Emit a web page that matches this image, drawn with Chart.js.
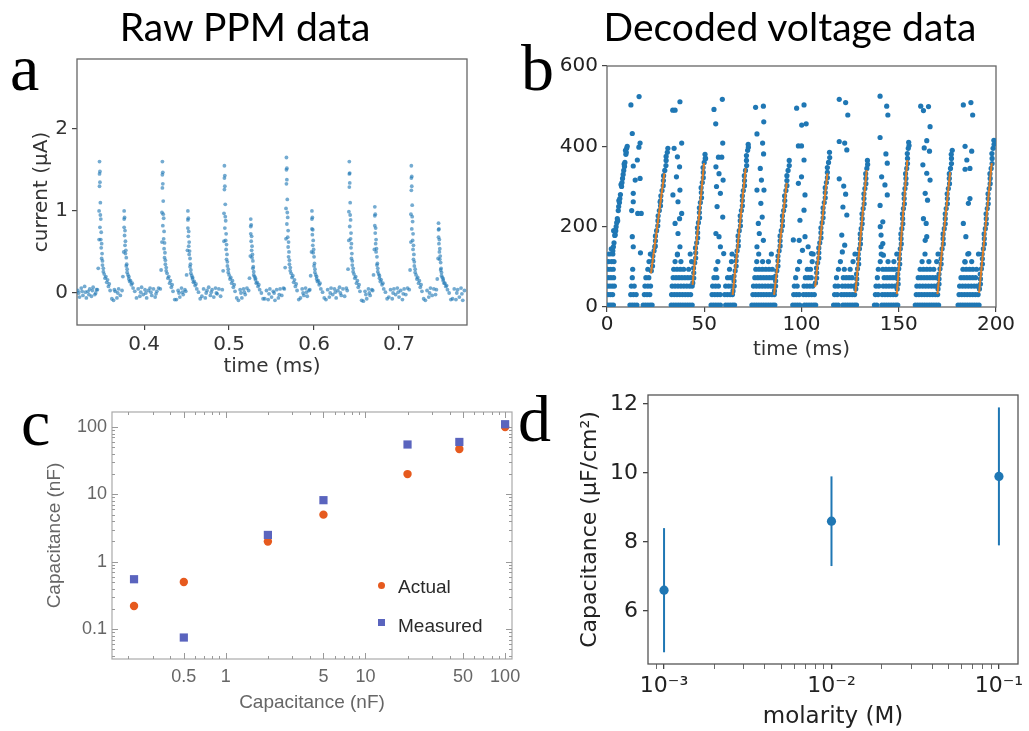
<!DOCTYPE html>
<html>
<head>
<meta charset="utf-8">
<title>PPM capacitance figure</title>
<script src="https://cdn.jsdelivr.net/npm/chart.js@4.4.1/dist/chart.umd.min.js"></script>
<style>
  body { margin: 0; background: #fff; }
  #page { position: relative; width: 1029px; height: 731px; overflow: hidden; }
  canvas { position: absolute; }
  .title { position: absolute; top: 7px; font-family: Lato, sans-serif; font-size: 39px; line-height: 1; color: #000; white-space: nowrap; transform: translateX(-50%); }
  .letter { position: absolute; font-family: "Liberation Serif", serif; font-size: 66px; line-height: 1; color: #000; }
  .legend { position: absolute; font-family: "Liberation Sans", Arial, sans-serif; font-size: 19px; line-height: 1; color: #2a2a2a; white-space: nowrap; }
  .swatch { position: absolute; width: 7px; height: 7px; }
</style>
</head>
<body>
<div id="page">
  <canvas id="ppmChart" width="500" height="390" style="left:0;top:0"></canvas>
  <canvas id="voltageChart" width="529" height="390" style="left:500px;top:0"></canvas>
  <canvas id="capChart" width="540" height="341" style="left:0;top:390px"></canvas>
  <canvas id="molarChart" width="509" height="361" style="left:520px;top:370px"></canvas>

  <div class="title" style="left:245px">Raw PPM data</div>
  <div class="title" style="left:790px">Decoded voltage data</div>
  <div class="letter" style="left:10px;top:35px">a</div>
  <div class="letter" style="left:521px;top:35px">b</div>
  <div class="letter" style="left:21px;top:390px">c</div>
  <div class="letter" style="left:518px;top:386px">d</div>

  <div class="swatch" style="left:378px;top:582px;border-radius:50%;background:#e65a1e"></div>
  <div class="legend" style="left:398px;top:577px">Actual</div>
  <div class="swatch" style="left:378px;top:619px;background:#5a64be"></div>
  <div class="legend" style="left:398px;top:616px">Measured</div>
</div>
<script>
// ---- a: raw PPM current samples [time ms, current µA] ----
const ppmBaseline = [
  [0.322,0.03],[0.323,0.00],[0.324,-0.05],[0.326,0.06],[0.327,0.02],[0.328,-0.03],[0.330,0.08],[0.331,0.01],[0.332,-0.06],[0.334,0.02],[0.335,-0.02],[0.336,0.05],[0.338,-0.04],[0.339,0.03],[0.340,0.07],[0.342,-0.02],[0.343,0.00],[0.344,0.04],
  [0.364,-0.09],[0.365,0.04],[0.366,0.02],[0.368,-0.06],[0.369,0.00],[0.370,0.05],[0.372,-0.03],
  [0.393,0.05],[0.395,-0.04],[0.396,0.01],[0.397,0.07],[0.399,-0.02],[0.401,0.04],[0.402,0.00],[0.403,-0.06],[0.405,0.03],[0.407,0.06],[0.408,0.01],[0.409,-0.03],[0.411,0.05],[0.413,-0.05],[0.414,-0.01],[0.415,0.02],[0.417,0.06],
  [0.438,-0.08],[0.440,0.03],[0.441,0.00],[0.442,-0.05],[0.444,0.06],[0.445,0.01],[0.446,-0.02],[0.448,0.04],
  [0.468,-0.04],[0.470,0.05],[0.472,-0.06],[0.473,0.00],[0.474,0.03],[0.476,0.07],[0.478,-0.03],[0.479,0.01],[0.480,0.04],[0.482,-0.05],[0.484,0.06],[0.485,0.00],[0.486,-0.01],[0.488,0.05],[0.490,-0.04],
  [0.511,-0.09],[0.513,0.04],[0.514,0.00],[0.515,-0.06],[0.517,0.05],[0.518,0.01],[0.519,-0.02],[0.521,0.06],
  [0.542,-0.07],[0.544,0.03],[0.546,-0.08],[0.547,-0.01],[0.548,0.05],[0.550,-0.05],[0.552,0.02],[0.553,0.00],[0.554,-0.09],[0.556,0.04],[0.558,-0.06],[0.559,-0.02],[0.560,0.05],[0.562,-0.03],[0.564,0.06],
  [0.584,-0.06],[0.586,0.05],[0.587,0.00],[0.588,-0.03],[0.590,0.06],[0.591,0.01],[0.592,-0.04],[0.594,0.03],
  [0.614,-0.08],[0.616,0.04],[0.618,-0.05],[0.619,0.00],[0.620,0.06],[0.622,-0.02],[0.624,0.05],[0.625,0.01],[0.626,-0.06],[0.628,0.03],[0.630,0.07],[0.631,0.00],[0.632,-0.03],[0.634,0.05],[0.636,-0.04],[0.638,0.06],
  [0.658,-0.10],[0.660,0.02],[0.661,-0.02],[0.662,-0.07],[0.664,0.05],[0.665,0.00],[0.666,-0.03],[0.668,0.04],
  [0.688,-0.05],[0.690,0.04],[0.692,-0.07],[0.693,0.00],[0.694,0.05],[0.696,-0.02],[0.698,0.06],[0.699,0.01],[0.700,-0.05],[0.702,0.03],[0.704,-0.08],[0.705,-0.01],[0.706,0.05],[0.708,-0.02],[0.710,0.06],
  [0.731,-0.09],[0.733,0.03],[0.735,-0.05],[0.736,0.00],[0.737,0.06],[0.739,-0.03],[0.741,0.05],[0.743,-0.02],
  [0.763,-0.07],[0.765,0.05],[0.767,-0.08],[0.768,0.00],[0.769,0.04],[0.771,-0.05],[0.773,0.06],[0.774,-0.01],[0.775,-0.09],[0.777,0.03]
];
const ppmPulses = [
  [0.345,0.04],[0.346,0.30],[0.347,0.65],[0.347,1.00],[0.3475,1.30],[0.3475,1.60],[0.348,1.48],[0.3485,1.10],[0.349,0.90],[0.3495,0.74],[0.350,0.60],[0.3505,0.48],[0.351,0.39],[0.352,0.30],[0.353,0.23],[0.354,0.18],[0.356,0.13],[0.358,0.08],[0.360,0.03],[0.362,-0.07],
  [0.3475,1.45],[0.348,1.35],[0.348,0.80],[0.3485,0.95],[0.349,0.65],[0.3495,0.55],[0.350,0.42],[0.351,0.34],[0.352,0.26],[0.355,0.20],[0.357,0.16],[0.359,0.11],
  [0.374,0.03],[0.375,0.20],[0.376,0.50],[0.3765,0.80],[0.3765,1.00],[0.377,0.92],[0.3775,0.76],[0.378,0.63],[0.3785,0.52],[0.379,0.43],[0.3795,0.35],[0.380,0.29],[0.381,0.22],[0.382,0.17],[0.383,0.14],[0.385,0.10],[0.387,0.06],[0.389,0.02],[0.391,-0.06],
  [0.3765,0.90],[0.377,0.70],[0.3775,0.58],[0.378,0.48],[0.379,0.33],[0.380,0.25],[0.382,0.20],[0.384,0.15],[0.386,0.12],
  [0.419,0.05],[0.420,0.28],[0.421,0.62],[0.421,0.98],[0.4215,1.28],[0.4215,1.60],[0.422,1.47],[0.4225,1.12],[0.423,0.91],[0.4235,0.75],[0.424,0.61],[0.4245,0.49],[0.425,0.40],[0.426,0.31],[0.427,0.24],[0.428,0.18],[0.430,0.12],[0.432,0.07],[0.434,0.02],[0.436,-0.08],
  [0.4215,1.44],[0.422,1.33],[0.422,0.82],[0.4225,0.96],[0.423,0.66],[0.4235,0.54],[0.424,0.43],[0.425,0.35],[0.426,0.27],[0.429,0.20],[0.431,0.15],[0.433,0.10],
  [0.449,0.02],[0.450,0.22],[0.451,0.52],[0.4515,0.79],[0.4515,1.00],[0.452,0.91],[0.4525,0.75],[0.453,0.62],[0.4535,0.51],[0.454,0.42],[0.4545,0.35],[0.455,0.28],[0.456,0.21],[0.457,0.17],[0.458,0.13],[0.460,0.09],[0.462,0.05],[0.464,0.01],[0.466,-0.07],
  [0.4515,0.89],[0.452,0.69],[0.4525,0.57],[0.453,0.47],[0.454,0.32],[0.455,0.24],[0.457,0.19],[0.459,0.14],[0.461,0.11],
  [0.492,0.04],[0.493,0.27],[0.494,0.63],[0.494,0.97],[0.4945,1.26],[0.4945,1.55],[0.495,1.43],[0.4955,1.08],[0.496,0.88],[0.4965,0.72],[0.497,0.59],[0.4975,0.47],[0.498,0.38],[0.499,0.29],[0.500,0.22],[0.501,0.17],[0.503,0.12],[0.505,0.07],[0.507,0.02],[0.509,-0.06],
  [0.4945,1.40],[0.495,1.30],[0.495,0.79],[0.4955,0.93],[0.496,0.64],[0.4965,0.53],[0.497,0.41],[0.498,0.33],[0.499,0.25],[0.502,0.19],[0.504,0.15],[0.506,0.10],
  [0.523,0.03],[0.524,0.18],[0.525,0.45],[0.5255,0.72],[0.5255,0.90],[0.526,0.83],[0.5265,0.69],[0.527,0.57],[0.5275,0.47],[0.528,0.39],[0.5285,0.32],[0.529,0.26],[0.530,0.20],[0.531,0.16],[0.532,0.12],[0.534,0.08],[0.536,0.04],[0.538,0.00],[0.540,-0.07],
  [0.5255,0.81],[0.526,0.63],[0.5265,0.52],[0.527,0.43],[0.528,0.30],[0.529,0.22],[0.531,0.18],[0.533,0.13],[0.535,0.10],
  [0.565,0.05],[0.566,0.31],[0.567,0.66],[0.567,1.03],[0.5675,1.33],[0.5675,1.65],[0.568,1.52],[0.5685,1.14],[0.569,0.92],[0.5695,0.76],[0.570,0.62],[0.5705,0.50],[0.571,0.40],[0.572,0.31],[0.573,0.24],[0.574,0.19],[0.576,0.13],[0.578,0.08],[0.580,0.03],[0.582,-0.08],
  [0.5675,1.50],[0.568,1.38],[0.568,0.84],[0.5685,0.98],[0.569,0.68],[0.5695,0.56],[0.570,0.44],[0.571,0.35],[0.572,0.27],[0.575,0.21],[0.577,0.16],[0.579,0.11],
  [0.595,0.04],[0.596,0.21],[0.597,0.50],[0.5975,0.78],[0.5975,1.00],[0.598,0.92],[0.5985,0.77],[0.599,0.64],[0.5995,0.53],[0.600,0.44],[0.6005,0.36],[0.601,0.29],[0.602,0.22],[0.603,0.17],[0.604,0.14],[0.606,0.10],[0.608,0.05],[0.610,0.01],[0.612,-0.06],
  [0.5975,0.90],[0.598,0.71],[0.5985,0.58],[0.599,0.49],[0.600,0.33],[0.601,0.25],[0.603,0.20],[0.605,0.15],[0.607,0.12],
  [0.639,0.03],[0.640,0.29],[0.641,0.64],[0.641,0.99],[0.6415,1.29],[0.6415,1.60],[0.642,1.46],[0.6425,1.10],[0.643,0.89],[0.6435,0.73],[0.644,0.60],[0.6445,0.48],[0.645,0.39],[0.646,0.30],[0.647,0.23],[0.648,0.18],[0.650,0.12],[0.652,0.07],[0.654,0.02],[0.656,-0.09],
  [0.6415,1.45],[0.642,1.34],[0.642,0.81],[0.6425,0.95],[0.643,0.66],[0.6435,0.55],[0.644,0.42],[0.645,0.34],[0.646,0.26],[0.649,0.20],[0.651,0.15],[0.653,0.10],
  [0.669,0.03],[0.670,0.22],[0.671,0.53],[0.6715,0.82],[0.6715,1.05],[0.672,0.96],[0.6725,0.79],[0.673,0.65],[0.6735,0.54],[0.674,0.44],[0.6745,0.36],[0.675,0.30],[0.676,0.23],[0.677,0.18],[0.678,0.14],[0.680,0.10],[0.682,0.05],[0.684,0.01],[0.686,-0.07],
  [0.6715,0.94],[0.672,0.73],[0.6725,0.60],[0.673,0.50],[0.674,0.34],[0.675,0.26],[0.677,0.21],[0.679,0.16],[0.681,0.12],
  [0.712,0.04],[0.713,0.28],[0.714,0.62],[0.714,0.96],[0.7145,1.25],[0.7145,1.55],[0.715,1.42],[0.7155,1.07],[0.716,0.87],[0.7165,0.72],[0.717,0.58],[0.7175,0.47],[0.718,0.38],[0.719,0.29],[0.720,0.22],[0.721,0.17],[0.723,0.12],[0.725,0.07],[0.727,0.02],[0.729,-0.07],
  [0.7145,1.40],[0.715,1.30],[0.715,0.78],[0.7155,0.93],[0.716,0.64],[0.7165,0.53],[0.717,0.41],[0.718,0.33],[0.719,0.25],[0.722,0.19],[0.724,0.15],[0.726,0.10],
  [0.744,0.04],[0.745,0.17],[0.746,0.42],[0.7465,0.68],[0.7465,0.85],[0.747,0.78],[0.7475,0.65],[0.748,0.54],[0.7485,0.45],[0.749,0.37],[0.7495,0.30],[0.750,0.25],[0.751,0.19],[0.752,0.15],[0.753,0.12],[0.755,0.08],[0.757,0.04],[0.759,0.00],[0.761,-0.08],
  [0.7465,0.77],[0.747,0.60],[0.7475,0.50],[0.748,0.41],[0.749,0.28],[0.750,0.21],[0.752,0.17],[0.754,0.12],[0.756,0.09]
];
const ppmTimeTicks = [0.4, 0.5, 0.6, 0.7];
const ppmTimeLabels = ['0.4', '0.5', '0.6', '0.7'];
const ppmCurrentTicks = [0, 1, 2];
const ppmCurrentLabels = ['0', '1', '2'];

// ---- b: decoded voltage, quantised low levels and their sample times (ms) ----
const lowLevels = [5, 31, 52, 73, 94, 113, 132];
const lowTimes = [
  [0.3,1.3,2.3,3.3, 11.8,13,14.2,15.4,18.6,19.8,21,22.2,23.2, 33,34.2,35.4,36.6,37.8,39,40.2,41.4,42.6,43.8, 53.5,54.7,55.9,57.1,58.3,61,62.2,63.4,64.6,65.6, 74.5,75.7,76.9,78.1,79.3,80.5,81.7,82.9,84.1,85.3,86.3, 95.5,96.7,97.9,99.1,101.5,102.7,103.9,105.1,106.3,107.3, 116.5,117.7,118.9,121.3,122.5,123.7,124.9,126.1,127.3,128.3, 137.5,138.7,141.3,142.5,143.7,144.9,146.1,147.3,148.5,149.5, 158.5,159.7,160.9,162.1,163.3,164.5,165.7,166.9,168.1,169.3,170.5, 180.5,181.7,182.9,184.1,185.3,186.5,187.7,188.9,190.1,191.3],
  [0.5,1.7,2.9, 12.2,13.6,15,19.2,20.6,22, 33.2,34.6,36,37.4,38.8,40.2,41.6,43, 54,55.4,56.8,58.2,60.5,61.9,63.3,64.5, 75,76.4,77.8,79.2,80.6,82,83.4,84.8,86, 96,97.4,98.8,101,102.4,103.8,105.2,106.6, 117,118.4,120.5,121.9,123.3,124.7,126.1,127.3, 138,139.4,141.5,142.9,144.3,145.7,147.1,148.5, 159,160.4,161.8,163.2,164.6,166,167.4,168.8,170, 181,182.4,183.8,185.2,186.6,188,189.4,190.8],
  [0.3,1.5,2.7,3.8, 12.5,14,19.5,21,22.4, 33.5,35,36.5,38,39.5,41,42.5,43.8, 54.3,55.8,57.3,61,62.5,64, 75.3,76.8,78.3,79.8,81.3,82.8,84.3,85.6, 96.3,97.8,101.3,102.8,104.3,105.8, 117.3,118.8,121,122.5,124,125.5,127, 138.3,139.8,142,143.5,145,146.5,148, 159.3,160.8,162.3,163.8,165.3,166.8,168.3,169.6, 181.3,182.8,184.3,185.8,187.3,188.8,190.2],
  [0.6,2,3.4, 13,20,21.5, 34,35.5,37,38.5,40,41.5,43, 55,56.5,62,63.5, 76,77.5,79,80.5,82,83.5,85, 97,102,103.5,105, 118,121.5,123,124.5,126, 139,142.5,144,145.5,147,148.5, 160,161.5,163,164.5,166,167.5,169, 182,183.5,185,186.5,188,189.5],
  [0.4,1.8,3.2, 13.2,21, 34.3,36,37.7,39.4,42, 56,63, 76.5,78.2,79.9,81.6,83.3,85, 98,103,104.6, 119,122,125, 139.5,141.8,143.4,145,146.6,148, 161,162.7,164.4,166.1,168, 183,184.7,186.4,188.1,190],
  [0.8,2.4,3.6, 21.6, 35,38,43.5, 57,64, 77,80,83, 99,105.5, 120,126.5, 140.5,144.5,147.5, 162,165.5,169.5, 184,187.5],
  [1.2,3, 22.3, 36.2,42.8, 64.3, 78,84.5, 106, 127.5, 141,149, 163.5,170.2, 185.5,191]
];
// ---- b: ramp samples [ms, value] ----
const rampSamples = [
  [3.0,140],[3.6,160],[4.2,180],[4.7,200],[5.3,220],[5.8,240],[6.4,260],[6.9,280],[7.5,300],[8.0,320],[8.6,340],[9.2,360],[9.7,380],[10.1,395],[4.0,178],[5.5,215],[7.2,305],[8.8,356],[2.2,145],[3.4,190],[6.1,265],[9.5,390],
  [3.3,150],[4.5,190],[5.0,210],[6.0,250],[6.6,270],[7.7,310],[8.3,330],[9.0,350],[9.9,385],[10.4,400],
  [22.8,90],[23.5,115],[24.2,140],[24.9,165],[25.5,190],[26.2,215],[26.9,240],[27.6,265],[28.3,290],[29.0,315],[29.7,340],[30.4,365],[31.0,385],[31.3,395],[24.6,150],[27.3,262],
  [23.4,102],[23.6,127],[24.8,152],[24.9,177],[26.1,202],[26.3,227],[27.5,252],[27.7,277],[28.9,302],[29.1,327],[30.3,352],[30.4,375],
  [44.1,60],[44.6,85],[45.1,110],[45.6,135],[46.1,160],[46.6,185],[47.0,210],[47.5,235],[48.0,260],[48.5,285],[49.0,310],[49.5,335],[50.0,360],[50.4,380],[50.7,370],
  [44.6,72],[44.5,97],[45.6,122],[45.5,147],[46.6,172],[46.5,197],[47.6,222],[47.5,247],[48.6,272],[48.4,297],[49.5,322],[49.4,347],[50.5,370],
  [64.8,40],[65.3,65],[65.9,90],[66.4,115],[66.9,140],[67.5,165],[68.0,190],[68.5,215],[69.1,240],[69.6,265],[70.1,290],[70.7,315],[71.2,340],[71.7,365],[72.3,390],[72.6,405],
  [65.4,52],[65.3,77],[66.4,102],[66.4,127],[67.5,152],[67.4,177],[68.6,202],[68.5,227],[69.6,252],[69.6,277],[70.7,302],[70.6,327],[71.8,352],[71.7,377],[72.7,398],
  [86.1,40],[86.7,65],[87.3,90],[87.9,115],[88.5,140],[89.0,165],[89.6,190],[90.2,215],[90.8,240],[91.4,265],[92.0,290],[92.5,315],[93.1,340],[93.7,365],
  [86.7,52],[86.7,77],[87.9,102],[87.9,127],[89.0,152],[89.0,177],[90.2,202],[90.2,227],[91.4,252],[91.3,277],[92.5,302],[92.5,327],[93.7,352],
  [107.2,60],[107.8,85],[108.3,110],[108.9,135],[109.4,160],[110.0,185],[110.6,210],[111.1,235],[111.7,260],[112.2,285],[112.8,310],[113.3,335],[113.9,360],[114.4,385],
  [107.8,72],[107.7,97],[108.9,122],[108.9,147],[110.0,172],[110.0,197],[111.1,222],[111.1,247],[112.2,272],[112.2,297],[113.3,322],[113.3,347],[114.5,372],
  [127.9,45],[128.4,70],[128.8,95],[129.3,120],[129.8,145],[130.3,170],[130.7,195],[131.2,220],[131.7,245],[132.1,270],[132.6,295],[133.1,320],[133.6,345],[133.9,365],
  [128.4,57],[128.3,82],[129.4,107],[129.2,132],[130.3,157],[130.2,182],[131.2,207],[131.1,232],[132.2,257],[132.1,282],[133.1,307],[133.0,332],[134.0,355],
  [149.2,45],[149.6,70],[150.0,95],[150.4,120],[150.8,145],[151.2,170],[151.6,195],[152.0,220],[152.4,245],[152.8,270],[153.2,295],[153.7,320],[154.1,345],[154.5,370],[154.9,395],[155.1,410],
  [149.7,57],[149.5,82],[150.5,107],[150.3,132],[151.3,157],[151.1,182],[152.1,207],[151.9,232],[152.9,257],[152.7,282],[153.7,307],[153.5,332],[154.5,357],[154.4,382],[155.3,402],
  [170.2,45],[170.7,70],[171.2,95],[171.8,120],[172.3,145],[172.8,170],[173.4,195],[173.9,220],[174.4,245],[175.0,270],[175.5,295],[176.0,320],[176.6,345],[177.1,370],[177.5,390],
  [170.7,57],[170.7,82],[171.8,107],[171.7,132],[172.9,157],[172.8,182],[173.9,207],[173.9,232],[175.0,257],[174.9,282],[176.1,307],[176.0,332],[177.1,357],[177.0,380],
  [191.5,45],[192.0,70],[192.5,95],[193.0,120],[193.5,145],[194.0,170],[194.5,195],[195.0,220],[195.5,245],[196.0,270],[196.5,295],[197.0,320],[197.5,345],[198.0,370],[198.5,395],[198.9,415],
  [192.0,57],[191.9,82],[193.0,107],[192.9,132],[194.0,157],[193.9,182],[195.0,207],[194.9,232],[196.0,257],[195.9,282],[197.0,307],[196.9,332],[198.0,357],[197.9,382],[199.0,405]
];
// ---- b: scattered decodes after each ramp [ms, value] ----
const strayDecodes = [
  [12.3,503],[16.5,524],[13.0,432],[17.0,408],[16.4,398],[13.5,351],[15.6,366],[17.0,320],[14.5,316],[13.5,283],[12.7,240],[15.8,233],[17.6,233],[13.5,262],[13.0,175],[13.5,150],[17.2,135],
  [33.8,490],[35.0,490],[37.5,511],[38.4,408],[34.5,395],[36.2,374],[37.3,349],[35.7,324],[37.5,291],[33.9,279],[36.5,262],[38.4,233],[35.0,208],[37.3,220],[36.5,183],[37.5,150],[36.2,130],
  [55.0,492],[59.3,517],[55.9,456],[59.5,408],[57.3,373],[59.0,373],[56.0,349],[57.6,332],[59.7,316],[56.3,300],[58.3,283],[56.6,250],[59.5,224],[56.0,183],[57.6,175],[58.3,150],[60.0,133],
  [76.4,497],[80.4,500],[80.6,461],[77.1,431],[80.0,408],[78.8,345],[80.5,381],[79.4,316],[77.1,291],[80.7,291],[79.1,258],[77.8,208],[79.8,224],[78.3,183],[80.4,166],[77.1,150],
  [97.5,495],[101.3,503],[102.4,456],[98.4,401],[100.0,401],[100.1,453],[101.3,366],[98.4,308],[100.0,324],[101.8,279],[99.2,216],[101.3,241],[98.8,166],[100.5,141],[95.8,167],[101.8,175],[103.4,150],[105.1,133],
  [119.4,517],[122.7,509],[123.8,478],[119.4,412],[122.2,408],[123.3,391],[119.4,319],[121.7,301],[122.7,281],[121.3,249],[123.3,229],[120.7,179],[122.2,154],[121.0,137],
  [140.4,525],[143.8,500],[144.4,478],[140.4,422],[143.4,381],[144.1,358],[141.2,324],[142.9,304],[144.1,279],[140.4,253],[141.8,212],[140.9,179],[141.8,158],[140.9,150],[142.1,129],[140.5,200],
  [161.3,500],[162.7,489],[165.3,499],[166.1,449],[164.4,414],[163.1,396],[165.8,388],[162.4,354],[164.4,333],[166.1,316],[163.6,283],[164.8,266],[162.7,220],[164.1,208],[164.4,175],[163.6,166],
  [183.2,503],[187.1,509],[188.0,478],[184.1,400],[187.5,388],[185.0,366],[186.6,345],[184.1,343],[186.6,270],[185.8,258],[183.2,208],[184.5,175],[186.0,133],[184.1,112]
];
// ---- b: linear fits on each ramp ----
const fitStartTime = [22.6, 44.0, 64.6, 85.9, 107.0, 127.7, 149.0, 169.9, 191.3];
const fitStartValue = [84, 55, 30, 30, 50, 35, 32, 32, 35];
const fitEndTime = [29.5, 49.9, 71.3, 92.4, 113.3, 133.5, 154.4, 176.4, 197.8];
const fitEndValue = [333, 358, 346, 309, 333, 341, 366, 336, 358];
const voltTimeTicks = [0, 50, 100, 150, 200];
const voltTimeLabels = ['0', '50', '100', '150', '200'];
const voltValueTicks = [0, 200, 400, 600];
const voltValueLabels = ['0', '200', '400', '600'];

// ---- c: nominal vs actual / measured capacitance (nF) ----
const capNominal = [0.22, 0.5, 2, 5, 20, 47, 100];
const capActual = [0.22, 0.5, 2, 5, 20, 47, 100];
const capMeasured = [0.55, 0.075, 2.5, 8.2, 55, 60, 110];
const capXTicks = [0.5, 1, 5, 10, 50, 100];
const capXLabels = ['0.5', '1', '5', '10', '50', '100'];
const capXMinor = [0.2, 0.3, 0.4, 0.6, 0.7, 0.8, 0.9, 2, 3, 4, 6, 7, 8, 9, 20, 30, 40, 60, 70, 80, 90];
const capYTicks = [0.1, 1, 10, 100];
const capYLabels = ['0.1', '1', '10', '100'];
const capYMinor = [0.04, 0.05, 0.06, 0.07, 0.08, 0.09, 0.2, 0.3, 0.4, 0.5, 0.6, 0.7, 0.8, 0.9, 2, 3, 4, 5, 6, 7, 8, 9, 20, 30, 40, 50, 60, 70, 80, 90];

// ---- d: capacitance per area vs molarity ----
const molarity = [0.001, 0.01, 0.1];
const capPerArea = [6.6, 8.6, 9.9];
const capPerAreaLow = [4.8, 7.3, 7.9];
const capPerAreaHigh = [8.4, 9.9, 11.9];
const molarityTicks = [0.001, 0.01, 0.1];
const molarityLabels = ['10\u207B\u00B3', '10\u207B\u00B2', '10\u207B\u00B9'];
const molarityMinor = [0.0009, 0.002, 0.003, 0.004, 0.005, 0.006, 0.007, 0.008, 0.009, 0.02, 0.03, 0.04, 0.05, 0.06, 0.07, 0.08, 0.09];
const capAreaTicks = [6, 8, 10, 12];
const capAreaLabels = ['6', '8', '10', '12'];

const mplBlue = '#1f77b4';

// box around the plot area
const framePlugin = {
  id: 'frame',
  beforeDatasetsDraw(chart, args, opts) {
    const { ctx, chartArea: a } = chart;
    ctx.save();
    ctx.strokeStyle = opts.color;
    ctx.lineWidth = opts.width;
    ctx.strokeRect(a.left, a.top, a.right - a.left, a.bottom - a.top);
    ctx.restore();
  }
};

// inward ticks on all four sides (panel c)
const innerTicksPlugin = {
  id: 'innerTicks',
  beforeDatasetsDraw(chart, args, opts) {
    const { ctx, chartArea: a, scales } = chart;
    ctx.save();
    ctx.strokeStyle = opts.color;
    ctx.lineWidth = 1;
    ctx.beginPath();
    const onX = (vals, len) => vals.forEach(v => {
      const p = Math.round(scales.x.getPixelForValue(v)) + 0.5;
      ctx.moveTo(p, a.bottom); ctx.lineTo(p, a.bottom - len);
      ctx.moveTo(p, a.top); ctx.lineTo(p, a.top + len);
    });
    const onY = (vals, len) => vals.forEach(v => {
      const p = Math.round(scales.y.getPixelForValue(v)) + 0.5;
      ctx.moveTo(a.left, p); ctx.lineTo(a.left + len, p);
      ctx.moveTo(a.right, p); ctx.lineTo(a.right - len, p);
    });
    onX(opts.xMajor, 6); onX(opts.xMinor, 3);
    onY(opts.yMajor, 6); onY(opts.yMinor, 3);
    ctx.stroke();
    ctx.restore();
  }
};

function setTicks(values) {
  return scale => { scale.ticks = values.map(v => ({ value: v })); };
}
function pairsToPoints(pairs) {
  return pairs.map(([x, y]) => ({ x: x, y: y }));
}

const dejavu = 'DejaVu Sans';
const baseOptions = {
  responsive: false,
  animation: false,
  events: []
};

// ---------- a ----------
new Chart(document.getElementById('ppmChart'), {
  type: 'scatter',
  data: {
    datasets: [{
      data: pairsToPoints(ppmBaseline.concat(ppmPulses)),
      pointRadius: 1.9,
      pointBorderWidth: 0,
      pointBackgroundColor: 'rgba(31,119,180,0.62)'
    }]
  },
  options: {
    ...baseOptions,
    layout: { padding: { top: 59, right: 33, left: 0, bottom: 0 } },
    plugins: { legend: { display: false }, tooltip: { enabled: false }, frame: { color: '#666', width: 1.3 } },
    scales: {
      x: {
        type: 'linear', bounds: 'data', min: 0.321, max: 0.78,
        afterFit: s => { s.height = 65; },
        afterBuildTicks: setTicks(ppmTimeTicks),
        ticks: { callback: (v, i) => ppmTimeLabels[i], autoSkip: false, maxRotation: 0, padding: 3, color: '#333', font: { family: dejavu, size: 20 } },
        grid: { drawOnChartArea: false, tickLength: 5, color: '#444', lineWidth: 1.2 },
        border: { display: false },
        title: { display: true, text: 'time (ms)', color: '#333', font: { family: dejavu, size: 20 }, padding: { top: 11, bottom: 11 } }
      },
      y: {
        type: 'linear', bounds: 'data', min: -0.39, max: 2.85,
        afterFit: s => { s.width = 77; },
        afterBuildTicks: setTicks(ppmCurrentTicks),
        ticks: { callback: (v, i) => ppmCurrentLabels[i], autoSkip: false, padding: 4, color: '#333', font: { family: dejavu, size: 20 } },
        grid: { drawOnChartArea: false, tickLength: 5, color: '#444', lineWidth: 1.2 },
        border: { display: false },
        title: { display: true, text: 'current (\u00B5A)', color: '#333', font: { family: dejavu, size: 20 }, padding: { top: 30, bottom: 30 } }
      }
    }
  },
  plugins: [framePlugin]
});

// ---------- b ----------
const lowPoints = lowLevels.flatMap((level, i) => lowTimes[i].map(t => ({ x: t, y: level })));
const fitDatasets = fitStartTime.map((t0, i) => ({
  data: [{ x: t0, y: fitStartValue[i] }, { x: fitEndTime[i], y: fitEndValue[i] }],
  showLine: true,
  borderColor: 'rgba(255,127,14,0.85)',
  borderWidth: 2,
  pointRadius: 0,
  order: 0
}));
new Chart(document.getElementById('voltageChart'), {
  type: 'scatter',
  data: {
    datasets: fitDatasets.concat([{
      data: lowPoints.concat(pairsToPoints(rampSamples), pairsToPoints(strayDecodes)),
      pointRadius: 2.6,
      pointBorderWidth: 0,
      pointBackgroundColor: mplBlue,
      order: 1
    }])
  },
  options: {
    ...baseOptions,
    layout: { padding: { top: 66, right: 33, left: 0, bottom: 0 } },
    plugins: { legend: { display: false }, tooltip: { enabled: false }, frame: { color: '#666', width: 1.3 } },
    scales: {
      x: {
        type: 'linear', bounds: 'data', min: 0, max: 200,
        afterFit: s => { s.height = 83; },
        afterBuildTicks: setTicks(voltTimeTicks),
        ticks: { callback: (v, i) => voltTimeLabels[i], autoSkip: false, maxRotation: 0, padding: 1, color: '#222', font: { family: dejavu, size: 20 } },
        grid: { drawOnChartArea: false, tickLength: 5, color: '#444', lineWidth: 1.2 },
        border: { display: false },
        title: { display: true, text: 'time (ms)', color: '#333', font: { family: dejavu, size: 20 }, padding: { top: 28, bottom: 28 } }
      },
      y: {
        type: 'linear', bounds: 'data', min: 0, max: 600,
        afterFit: s => { s.width = 107; },
        afterBuildTicks: setTicks(voltValueTicks),
        ticks: { callback: (v, i) => voltValueLabels[i], autoSkip: false, padding: 4, color: '#222', font: { family: dejavu, size: 20 } },
        grid: { drawOnChartArea: false, tickLength: 5, color: '#444', lineWidth: 1.2 },
        border: { display: false }
      }
    }
  },
  plugins: [framePlugin]
});

// ---------- c ----------
const capFont = { family: 'Liberation Sans', size: 18 };
new Chart(document.getElementById('capChart'), {
  type: 'scatter',
  data: {
    datasets: [{
      label: 'Measured',
      data: capNominal.map((x, i) => ({ x: x, y: capMeasured[i] })),
      pointStyle: 'rect',
      pointRadius: 5.8,
      pointBorderWidth: 0,
      pointBackgroundColor: '#5a64be',
      order: 0
    }, {
      label: 'Actual',
      data: capNominal.map((x, i) => ({ x: x, y: capActual[i] })),
      pointRadius: 4.2,
      pointBorderWidth: 0,
      pointBackgroundColor: '#e65a1e',
      order: 1
    }]
  },
  options: {
    ...baseOptions,
    layout: { padding: { top: 22, right: 28, left: 0, bottom: 0 } },
    plugins: {
      legend: { display: false }, tooltip: { enabled: false },
      frame: { color: '#aaa', width: 1.2 },
      innerTicks: { color: '#999', xMajor: capXTicks, xMinor: capXMinor, yMajor: capYTicks, yMinor: capYMinor }
    },
    scales: {
      x: {
        type: 'logarithmic', bounds: 'data', min: 0.153, max: 112,
        afterFit: s => { s.height = 72; },
        afterBuildTicks: setTicks(capXTicks),
        ticks: { callback: (v, i) => capXLabels[i], autoSkip: false, maxRotation: 0, padding: 7, color: '#666', font: capFont },
        grid: { display: false, drawTicks: false },
        border: { display: false },
        title: { display: true, text: 'Capacitance (nF)', color: '#666', font: { family: 'Liberation Sans', size: 19 }, padding: { top: 16.6, bottom: 16.6 } }
      },
      y: {
        type: 'logarithmic', bounds: 'data', min: 0.036, max: 167,
        afterFit: s => { s.width = 112; },
        afterBuildTicks: setTicks(capYTicks),
        ticks: { callback: (v, i) => capYLabels[i], autoSkip: false, padding: 5, color: '#666', font: capFont },
        grid: { display: false, drawTicks: false },
        border: { display: false },
        title: { display: true, text: 'Capacitance (nF)', color: '#666', font: { family: 'Liberation Sans', size: 19 }, padding: { top: 43.6, bottom: 43.6 } }
      }
    }
  },
  plugins: [framePlugin, innerTicksPlugin]
});

// ---------- d ----------
const molarityAllTicks = molarityTicks.map(v => ({ value: v, major: true }))
  .concat(molarityMinor.map(v => ({ value: v, major: false })))
  .sort((p, q) => p.value - q.value);
const errorBars = molarity.map((m, i) => ({
  data: [{ x: m, y: capPerAreaLow[i] }, { x: m, y: capPerAreaHigh[i] }],
  showLine: true,
  borderColor: mplBlue,
  borderWidth: 2,
  pointRadius: 0,
  order: 1
}));
new Chart(document.getElementById('molarChart'), {
  type: 'scatter',
  data: {
    datasets: [{
      data: molarity.map((m, i) => ({ x: m, y: capPerArea[i] })),
      pointRadius: 4.6,
      pointBorderWidth: 0,
      pointBackgroundColor: mplBlue,
      order: 0
    }].concat(errorBars)
  },
  options: {
    ...baseOptions,
    layout: { padding: { top: 25, right: 11, left: 0, bottom: 0 } },
    plugins: { legend: { display: false }, tooltip: { enabled: false }, frame: { color: '#555', width: 1.3 } },
    scales: {
      x: {
        type: 'logarithmic', bounds: 'data', min: 0.000802, max: 0.13,
        afterFit: s => { s.height = 67; },
        afterBuildTicks: scale => { scale.ticks = molarityAllTicks.map(t => ({ ...t })); },
        ticks: {
          callback: v => { const k = molarityTicks.indexOf(v); return k >= 0 ? molarityLabels[k] : ''; },
          autoSkip: false, maxRotation: 0, padding: 4, color: '#222', font: { family: dejavu, size: 22 }
        },
        grid: {
          drawOnChartArea: false, tickLength: 5, color: '#444',
          lineWidth: c => (c.tick && c.tick.major ? 1.3 : 0.8)
        },
        border: { display: false },
        title: { display: true, text: 'molarity (M)', color: '#222', font: { family: dejavu, size: 23 }, padding: { top: 0.2, bottom: 0.2 } }
      },
      y: {
        type: 'linear', bounds: 'data', min: 4.46, max: 12.26,
        afterFit: s => { s.width = 128; },
        afterBuildTicks: setTicks(capAreaTicks),
        ticks: { callback: (v, i) => capAreaLabels[i], autoSkip: false, padding: 5, color: '#222', font: { family: dejavu, size: 22 } },
        grid: { drawOnChartArea: false, tickLength: 5, color: '#444', lineWidth: 1.3 },
        border: { display: false },
        title: { display: true, text: 'Capacitance (\u00B5F/cm\u00B2)', color: '#222', font: { family: dejavu, size: 22 }, padding: { top: 56.8, bottom: 56.8 } }
      }
    }
  },
  plugins: [framePlugin]
});
</script>
</body>
</html>
